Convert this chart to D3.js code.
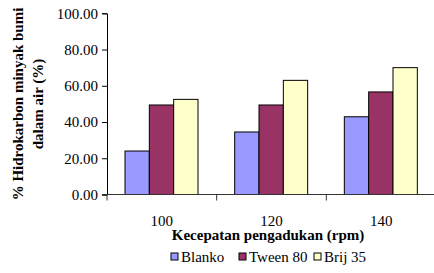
<!DOCTYPE html>
<html>
<head>
<meta charset="utf-8">
<script src="https://cdn.jsdelivr.net/npm/d3@7"></script>
<style>
  body { margin: 0; background: #fff; }
</style>
</head>
<body>
<div id="wrap"><svg id="chart" width="434" height="273"></svg></div>
<script>
var categories = ["100", "120", "140"];
var series = ["Blanko", "Tween 80", "Brij 35"];
var blanko = [24.0, 34.5, 42.9];
var tween80 = [49.4, 49.4, 56.6];
var brij35 = [52.5, 63.0, 70.0];
var yTicks = [0, 20, 40, 60, 80, 100];
var colors = ["#9999ff", "#993366", "#ffffcc"];

var values = [blanko, tween80, brij35];
var svg = d3.select("#chart");

function serif(sel, size, bold) {
  sel.attr("style", "font-family:'Liberation Serif'; font-size:" + size + "px" + (bold ? "; font-weight:bold" : ""));
}

var x = d3.scaleBand().domain(categories).range([107, 436]);
var xs = d3.scaleBand().domain(series).range([18, 91]);
var y = d3.scaleLinear().domain([0, 100]).range([194.5, 13.3]);

// bars
series.forEach(function (s, i) {
  svg.append("g").selectAll("rect")
    .data(values[i])
    .enter().append("rect")
    .attr("x", function (d, j) { return x(categories[j]) + xs(s); })
    .attr("y", function (d) { return y(d); })
    .attr("width", xs.bandwidth())
    .attr("height", function (d) { return y(0) - y(d); })
    .attr("fill", colors[i])
    .attr("stroke", "#000")
    .attr("stroke-width", 1);
});

// y axis
var yAxis = svg.append("g")
  .attr("transform", "translate(107,0)")
  .call(d3.axisLeft(y).tickValues(yTicks).tickSize(5).tickFormat(d3.format(".2f")));
yAxis.attr("font-family", null).attr("font-size", null);
yAxis.selectAll("text").attr("fill", "#000").attr("dx", -1).call(serif, 15);
yAxis.select(".domain").attr("stroke", "#000");

// x axis
var xAxis = svg.append("g")
  .attr("transform", "translate(0,194.5)");
xAxis.append("line").attr("x1", 102).attr("x2", 434).attr("y1", 0).attr("y2", 0).attr("stroke", "#333");
xAxis.selectAll("line.tk")
  .data(categories.slice(1))
  .enter().append("line")
  .attr("class", "tk")
  .attr("x1", function (d) { return x(d); })
  .attr("x2", function (d) { return x(d); })
  .attr("y1", 0).attr("y2", 6).attr("stroke", "#333");
xAxis.append("line").attr("x1", 107).attr("x2", 107).attr("y1", 0).attr("y2", 6).attr("stroke", "#333");
xAxis.selectAll("text.cat")
  .data(categories)
  .enter().append("text")
  .attr("class", "cat")
  .attr("x", function (d) { return x(d) + x.bandwidth() / 2; })
  .attr("y", 31)
  .attr("text-anchor", "middle")
  .call(serif, 15)
  .text(function (d) { return d; });

// axis titles
svg.append("text")
  .attr("x", 268).attr("y", 240)
  .attr("text-anchor", "middle")
  .call(serif, 15, true)
  .text("Kecepatan pengadukan (rpm)");

var yt = svg.append("text")
  .attr("transform", "translate(0,104) rotate(-90)")
  .attr("text-anchor", "middle")
  .call(serif, 15, true);
yt.append("tspan").attr("x", 0).attr("y", 23).text("% Hidrokarbon minyak bumi");
yt.append("tspan").attr("x", 0).attr("y", 43).text("dalam air (%)");

// legend
var legX = [171, 239, 314];
var leg = svg.append("g").selectAll("g")
  .data(series)
  .enter().append("g")
  .attr("transform", function (d, i) { return "translate(" + legX[i] + ",251)"; });
leg.append("rect")
  .attr("width", 7).attr("height", 7).attr("y", 2)
  .attr("fill", function (d, i) { return colors[i]; })
  .attr("stroke", "#000");
leg.append("text")
  .attr("x", 10).attr("y", 10.5)
  .call(serif, 15)
  .text(function (d) { return d; });

// re-parse the finished markup so the text picks up the serif face
var wrap = document.getElementById("wrap");
wrap.innerHTML = wrap.innerHTML;
</script>
</body>
</html>
